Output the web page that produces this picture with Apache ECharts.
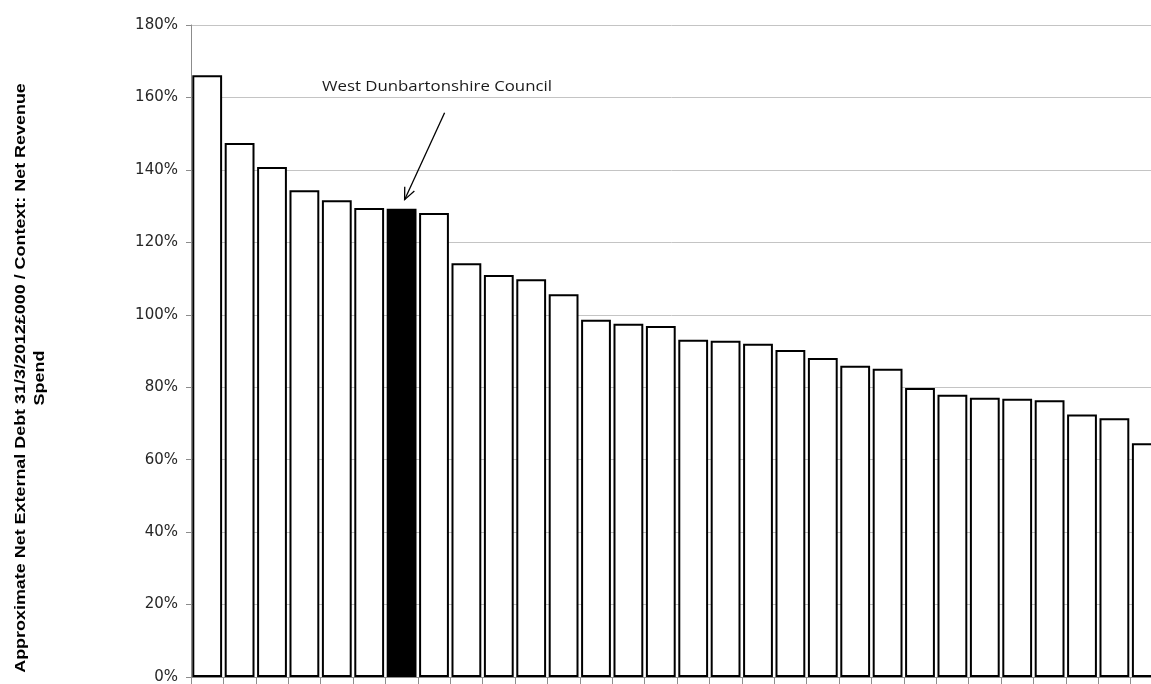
<!DOCTYPE html>
<html>
<head>
<meta charset="utf-8">
<script src="https://cdn.jsdelivr.net/npm/echarts@6/dist/echarts.min.js"></script>
<style>
  html, body { margin: 0; padding: 0; background: #ffffff; }
  #chart { width: 1151px; height: 684px; }
</style>
</head>
<body>
<div id="chart"></div>
<script>
// Councils ranked by net external debt as a share of net revenue spend
const ranks = ['1','2','3','4','5','6','7','8','9','10','11','12','13','14','15',
               '16','17','18','19','20','21','22','23','24','25','26','27','28','29','30'];
const debtRatio = [166.1, 147.4, 140.8, 134.4, 131.6, 129.5, 129.3, 128.1, 114.2, 111.0,
                   109.8, 105.7, 98.6, 97.5, 96.9, 93.1, 92.8, 92.0, 90.3, 88.1,
                   85.9, 85.1, 79.8, 77.9, 77.1, 76.8, 76.4, 72.5, 71.4, 64.5];
const highlightIndex = 6;
const highlightName = 'West Dunbartonshire Council';
const yTicks = [0, 20, 40, 60, 80, 100, 120, 140, 160, 180];
const yAxisTitle = ['Approximate Net External Debt 31/3/2012£000 / Context: Net Revenue', 'Spend'];

const chart = echarts.init(document.getElementById('chart'), null, { renderer: 'canvas' });

const barData = debtRatio.map((v, i) => i === highlightIndex
  ? { value: v, itemStyle: { color: '#000000' } }
  : v);

chart.setOption({
  animation: false,
  backgroundColor: '#ffffff',
  // plot runs past the right edge of the canvas, so the last bar is clipped
  grid: {
    left: 191, top: 25, height: 652, width: 972,
    containLabel: false, outerBoundsMode: 'none'
  },
  xAxis: {
    type: 'category',
    data: ranks,
    boundaryGap: true,
    axisLine: { show: true, lineStyle: { color: '#8c8c8c', width: 1 } },
    axisTick: { show: true, interval: 0, length: 7, lineStyle: { color: '#8c8c8c' } },
    axisLabel: { show: false },
    splitLine: { show: false }
  },
  yAxis: {
    type: 'value',
    min: yTicks[0],
    max: yTicks[yTicks.length - 1],
    interval: yTicks[1] - yTicks[0],
    axisLine: { show: true, lineStyle: { color: '#8c8c8c', width: 1 } },
    axisTick: { show: true, length: 5, lineStyle: { color: '#8c8c8c' } },
    axisLabel: {
      formatter: '{value}%',
      fontFamily: 'DejaVu Sans, sans-serif',
      fontSize: 15,
      color: '#262626',
      margin: 13
    },
    splitLine: { show: true, lineStyle: { color: '#c4c4c4', width: 1 } }
  },
  series: [{
    type: 'bar',
    data: barData,
    barCategoryGap: '8%',
    itemStyle: { color: '#ffffff', borderColor: '#000000', borderWidth: 2 }
  }]
});

// Rotated axis title and the callout arrow pointing at the highlighted bar
const tip = chart.convertToPixel({ seriesIndex: 0 }, [highlightIndex, debtRatio[highlightIndex]]);
const tipX = tip[0] + 3, tipY = tip[1] - 9;
const startX = tipX + 40, startY = tipY - 87;
const dx = tipX - startX, dy = tipY - startY;
const len = Math.sqrt(dx * dx + dy * dy);
const ux = dx / len, uy = dy / len;
const headLen = 13, headAng = 0.42;
function headPoint(sign) {
  const c = Math.cos(sign * headAng), s = Math.sin(sign * headAng);
  const rx = -(ux * c - uy * s), ry = -(ux * s + uy * c);
  return [tipX + rx * headLen, tipY + ry * headLen];
}

const titleFont = {
  fontFamily: 'Liberation Sans, Arial, sans-serif',
  fontWeight: 'bold', fontSize: 14, fill: '#000000',
  align: 'center', verticalAlign: 'middle'
};

chart.setOption({
  graphic: [
    {
      type: 'text',
      x: 21, y: 378, rotation: Math.PI / 2, scaleX: 1.28,
      style: Object.assign({ text: yAxisTitle[0] }, titleFont)
    },
    {
      type: 'text',
      x: 40, y: 378, rotation: Math.PI / 2, scaleX: 1.28,
      style: Object.assign({ text: yAxisTitle[1] }, titleFont)
    },
    {
      type: 'text',
      x: 437, y: 87, scaleX: 1.2,
      style: {
        text: highlightName,
        fontFamily: 'Open Sans, Noto Sans, sans-serif',
        fontSize: 14, fill: '#1a1a1a',
        align: 'center', verticalAlign: 'middle'
      }
    },
    {
      type: 'line',
      shape: { x1: startX, y1: startY, x2: tipX, y2: tipY },
      style: { stroke: '#000000', lineWidth: 1.3 }
    },
    {
      type: 'polyline',
      shape: { points: [headPoint(1), [tipX, tipY], headPoint(-1)] },
      style: { stroke: '#000000', lineWidth: 1.3, fill: null }
    }
  ]
});
</script>
</body>
</html>
